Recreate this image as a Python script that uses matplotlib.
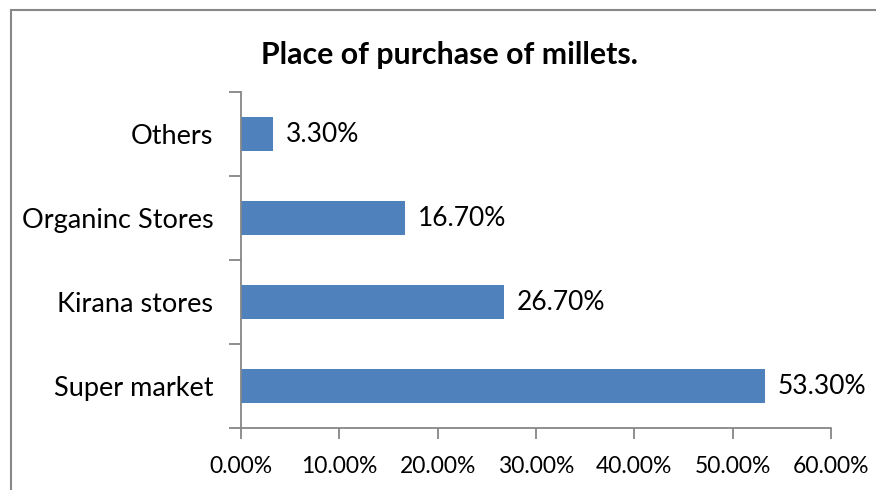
import matplotlib.pyplot as plt
from matplotlib.patches import Rectangle
from matplotlib.ticker import FuncFormatter

# where respondents buy millets (share of respondents, %)
places = ["Super market", "Kirana stores", "Organinc Stores", "Others"]
shares = [53.3, 26.7, 16.7, 3.3]
x_ticks = [0, 10, 20, 30, 40, 50, 60]

plt.rcParams['font.family'] = ['Lato', 'DejaVu Sans']

fig = plt.figure(figsize=(8.76, 4.9), dpi=100)
ax = fig.add_axes([241 / 876, 1 - 428 / 490, 590 / 876, 336 / 490])

bars = ax.barh(range(len(places)), shares, height=0.4, color='#4F81BD')
for b, v in zip(bars, shares):
    ax.text(b.get_width() + 1.3, b.get_y() + b.get_height() / 2, f"{v:.2f}%",
            va='center', ha='left', fontsize=19)

ax.set_xlim(0, 60)
ax.set_ylim(-0.5, len(places) - 0.5)
ax.set_xticks(x_ticks)
ax.xaxis.set_major_formatter(FuncFormatter(lambda v, p: f"{v:.2f}%"))
ax.set_yticks([i - 0.5 for i in range(len(places) + 1)])
ax.set_yticklabels([])
ax.set_yticks(range(len(places)), minor=True)
ax.set_yticklabels(places, minor=True)
ax.tick_params(axis='y', which='minor', length=0, pad=20, labelsize=19.5)
ax.tick_params(axis='y', which='major', length=9, color='#868686', width=1.3)
ax.tick_params(axis='x', length=8, color='#868686', width=1.3, labelsize=16.5, pad=12)

for side in ['top', 'right']:
    ax.spines[side].set_visible(False)
for side in ['left', 'bottom']:
    ax.spines[side].set_color('#868686')
    ax.spines[side].set_linewidth(1.3)

fig.text(449.5 / 876, 1 - 55 / 490, "Place of purchase of millets.",
         fontsize=21.8, fontweight='bold', ha='center', va='center')

# chart area frame
fig.patches.append(Rectangle((11 / 876, -0.1), 1.0, (490 - 10) / 490 + 0.1,
                             transform=fig.transFigure, fill=False,
                             edgecolor='#888888', linewidth=1.5))

fig.savefig("out.png", dpi=100)
